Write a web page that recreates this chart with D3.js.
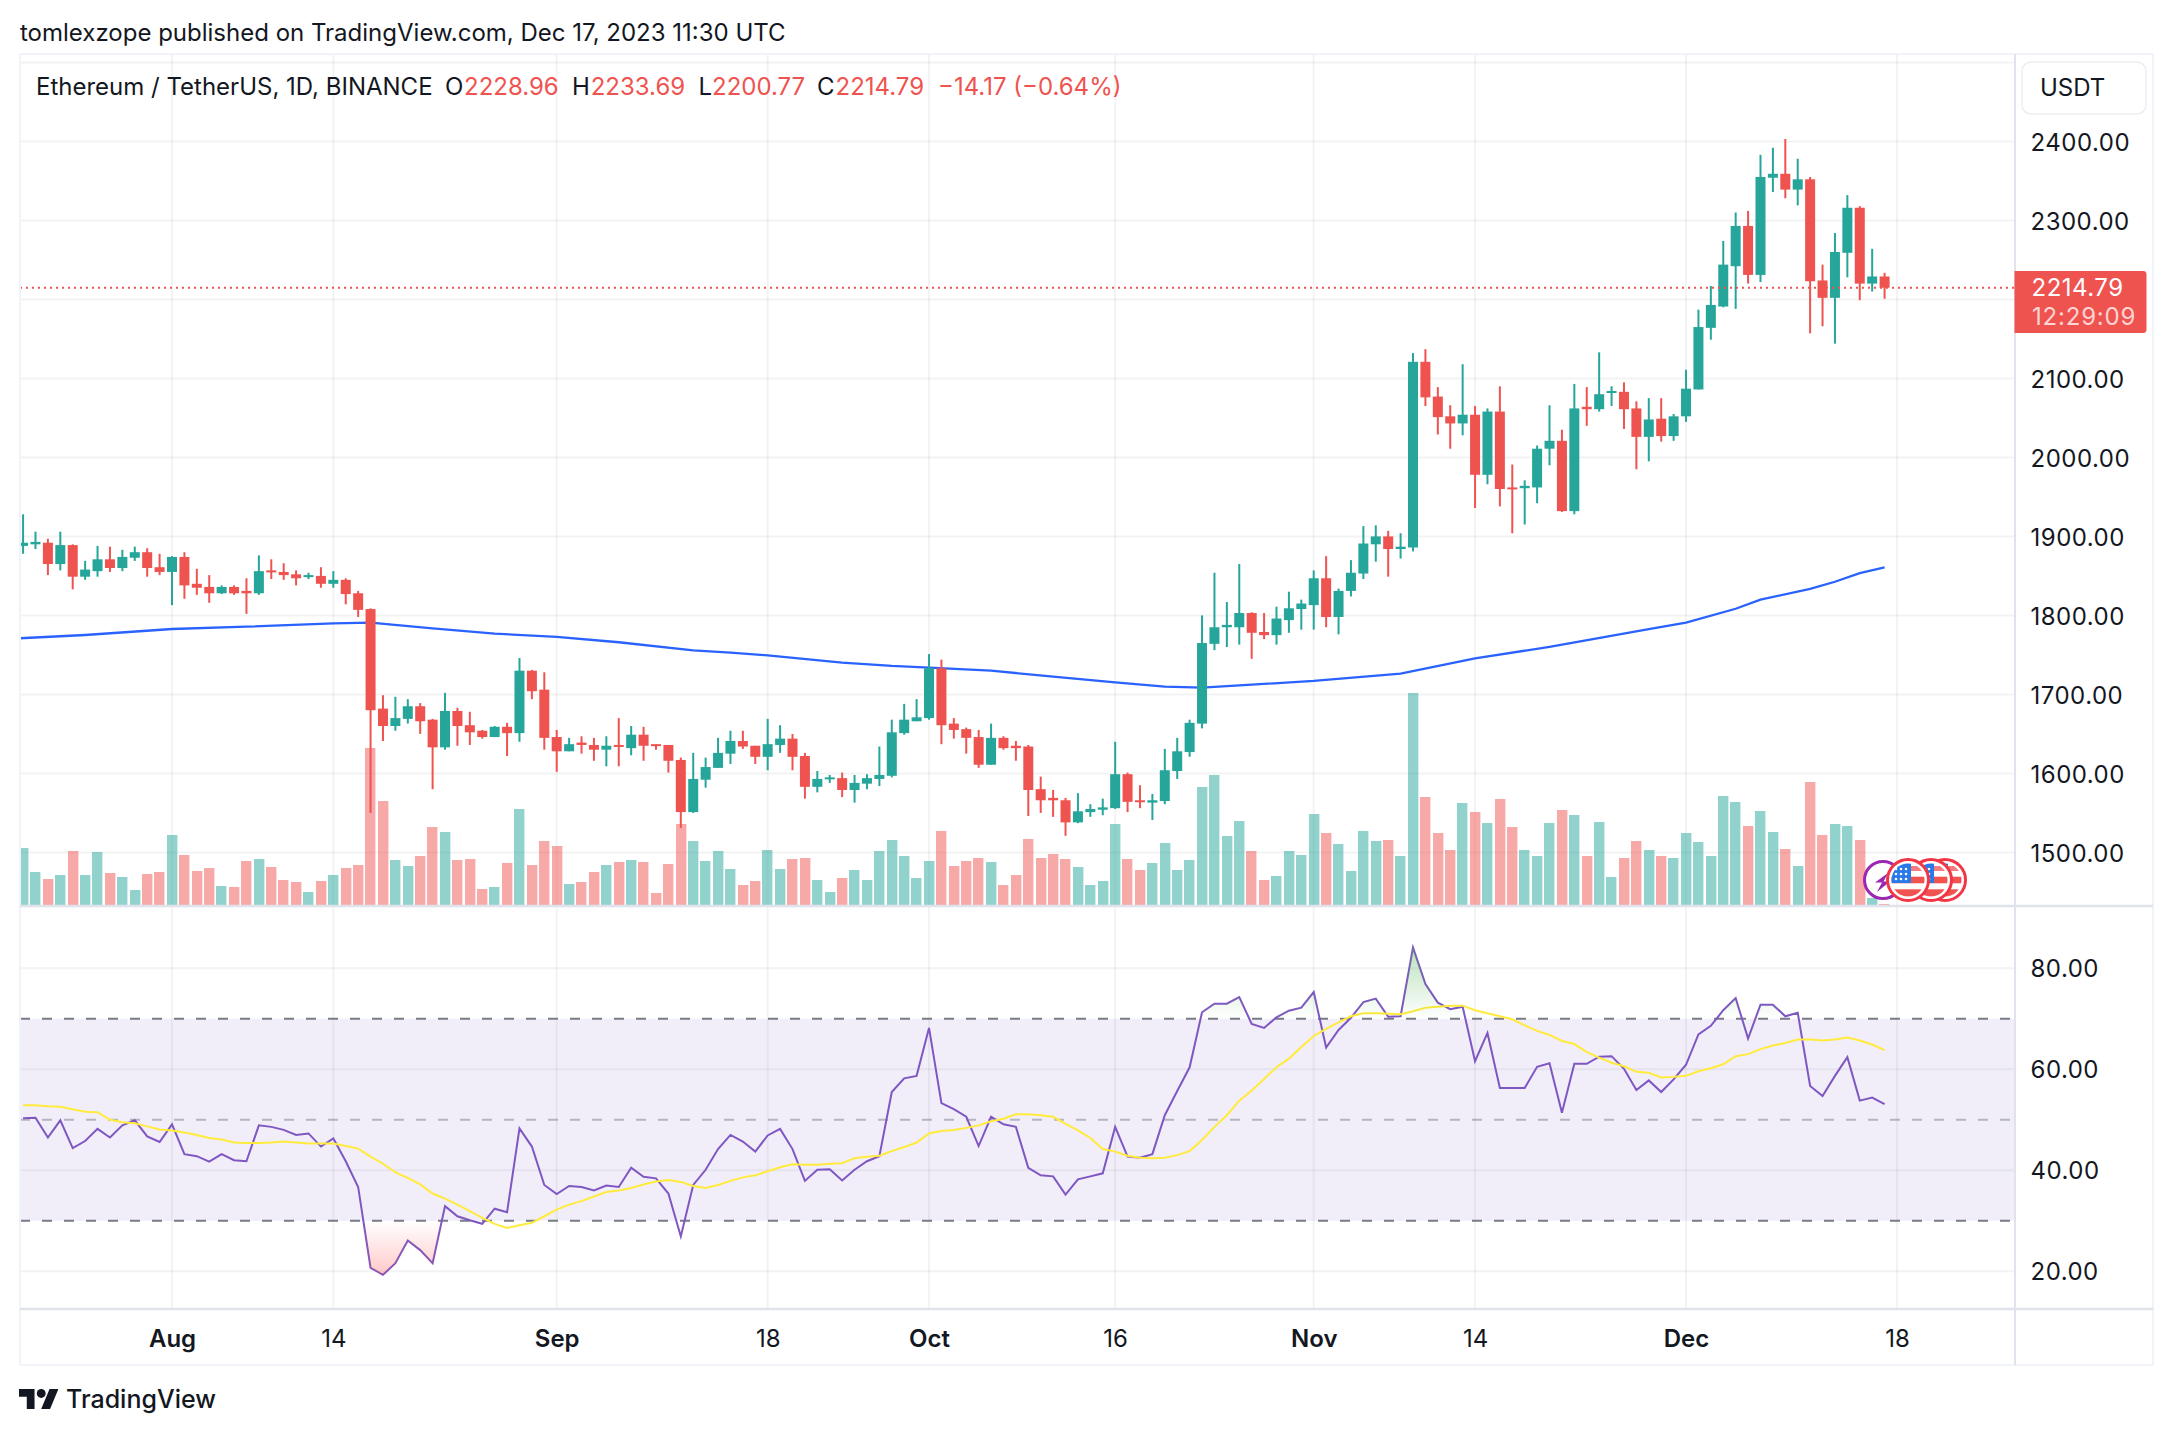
<!DOCTYPE html>
<html><head><meta charset="utf-8">
<script src="https://d3js.org/d3.v7.min.js"></script>
<style>html,body{margin:0;padding:0;background:#fff}svg{display:block}text{font-family:Inter,"Noto Sans",sans-serif}</style>
</head><body><svg id="c" width="2174" height="1434"></svg>
<script>
const firstDay = "2023-07-20";
const opens = [1888,1890,1892,1865,1889,1849,1856,1871,1860,1873,1880,1861,1855,1874,1840,1836,1828,1836,1831,1828,1857,1855,1852,1849,1850,1840,1845,1828,1808,1682,1660,1669,1685,1668,1633,1679,1661,1654,1646,1659,1651,1730,1706,1646,1628,1639,1636,1630,1636,1632,1649,1637,1636,1617,1551,1592,1607,1625,1641,1635,1621,1636,1644,1622,1583,1593,1594,1579,1587,1593,1597,1651,1666,1670,1733,1663,1656,1646,1611,1645,1635,1634,1580,1569,1566,1538,1551,1554,1556,1599,1566,1563,1565,1603,1627,1663,1764,1785,1785,1803,1779,1775,1794,1808,1813,1847,1798,1831,1853,1890,1900,1884,1886,2121,2077,2052,2043,2054,1978,2058,1962,1961,1962,2011,2021,1932,2064,2061,2082,2083,2062,2026,2049,2027,2052,2086,2164,2191,2242,2293,2231,2354,2359,2339,2352,2224,2202,2259,2316,2220,2228.96];
const highs = [1928,1906,1897,1906,1890,1869,1888,1887,1883,1887,1885,1878,1875,1880,1859,1851,1838,1838,1847,1876,1871,1866,1857,1854,1861,1856,1847,1831,1809,1699,1697,1694,1689,1669,1702,1683,1678,1655,1660,1664,1746,1731,1728,1655,1645,1647,1645,1647,1670,1660,1659,1637,1636,1620,1626,1620,1645,1654,1654,1635,1669,1661,1650,1626,1603,1598,1601,1598,1599,1634,1668,1688,1694,1751,1744,1670,1658,1655,1663,1647,1641,1636,1596,1579,1569,1575,1561,1568,1640,1601,1585,1574,1631,1645,1668,1800,1854,1817,1865,1804,1803,1811,1830,1820,1857,1875,1834,1870,1913,1914,1907,1904,2132,2137,2089,2066,2118,2065,2062,2090,1991,1971,2015,2066,2035,2093,2089,2133,2090,2095,2071,2075,2075,2055,2111,2187,2217,2274,2310,2312,2383,2392,2403,2378,2355,2244,2284,2332,2318,2264,2233.69];
const lows = [1878,1884,1851,1857,1833,1845,1849,1855,1856,1869,1849,1851,1813,1821,1826,1816,1827,1826,1802,1826,1846,1845,1838,1846,1835,1835,1814,1798,1550,1641,1654,1663,1650,1580,1630,1635,1636,1644,1646,1622,1640,1694,1630,1602,1628,1625,1616,1609,1609,1623,1616,1630,1601,1531,1550,1582,1607,1612,1631,1612,1604,1626,1604,1568,1576,1588,1570,1563,1580,1584,1595,1649,1666,1668,1637,1644,1625,1607,1611,1630,1616,1546,1550,1545,1521,1537,1545,1547,1555,1551,1556,1541,1561,1593,1621,1657,1756,1760,1763,1745,1770,1763,1778,1782,1782,1785,1776,1824,1846,1868,1849,1872,1881,2065,2029,2011,2028,1936,1966,1938,1904,1915,1942,1990,1931,1928,2040,2058,2065,2036,1985,1995,2020,2021,2045,2086,2149,2190,2188,2220,2222,2336,2328,2319,2157,2166,2144,2228,2199,2210,2200.77];
const closes = [1892,1893,1865,1889,1849,1858,1871,1860,1874,1880,1860,1855,1874,1838,1835,1828,1836,1828,1828,1856,1855,1851,1847,1851,1840,1845,1827,1807,1680,1660,1670,1685,1666,1633,1679,1660,1652,1646,1659,1651,1730,1704,1645,1628,1637,1636,1630,1635,1634,1649,1635,1635,1616,1551,1593,1608,1626,1641,1634,1621,1637,1644,1621,1583,1593,1595,1579,1588,1594,1598,1652,1668,1671,1733,1661,1655,1645,1611,1645,1632,1632,1579,1566,1566,1538,1552,1555,1557,1599,1564,1564,1566,1604,1628,1664,1765,1785,1788,1803,1778,1775,1796,1809,1815,1847,1798,1831,1854,1891,1900,1884,1887,2121,2076,2051,2043,2054,1978,2058,1960,1960,1964,2011,2021,1932,2062,2061,2080,2084,2061,2026,2048,2027,2052,2087,2165,2193,2244,2293,2231,2355,2359,2339,2352,2223,2202,2260,2316,2220,2229,2214.79];
const volumes = [57,33,26,30,54,30,53,32,28,15,31,33,70,50,34,37,19,18,44,46,38,25,23,13,24,30,37,40,157,104,45,39,49,78,73,45,46,16,18,42,96,40,64,59,21,23,33,40,43,45,43,12,41,81,64,44,54,36,20,24,55,36,46,47,25,13,27,35,25,54,65,49,27,44,74,39,44,47,43,20,30,66,47,51,46,38,20,24,81,46,35,42,62,35,45,118,130,69,84,54,25,29,54,50,91,72,61,34,74,64,65,49,212,108,72,55,102,93,82,106,78,55,49,82,95,90,49,83,28,47,64,55,49,47,72,63,49,109,103,79,94,73,56,39,123,70,81,79,65,7,1];
const rsiValues = [50.3,50.4,46.5,49.9,44.4,45.8,48.2,46.5,48.9,49.9,46.7,45.6,49.1,43.2,42.8,41.7,43.2,42.0,41.8,48.9,48.6,48.0,47.0,47.3,44.7,46.3,41.8,36.7,20.7,19.3,21.6,26.1,24.2,21.6,32.9,30.9,30.1,29.4,32.4,31.7,48.3,44.7,37.1,35.3,36.9,36.7,36.0,37.0,36.7,40.5,38.7,38.4,35.4,26.9,37.1,40.1,44.2,47.0,45.7,43.7,46.9,48.2,44.2,37.9,40.1,40.2,38.0,40.1,41.8,42.8,55.5,58.2,58.7,68.2,53.3,52.1,50.6,44.8,50.6,49.1,48.6,40.5,39.0,38.8,35.2,38.2,38.8,39.4,48.6,42.7,42.5,43.2,50.9,55.7,60.4,71.3,73.0,73.0,74.3,69.0,68.2,70.3,71.6,72.2,75.3,64.3,67.8,70.2,73.3,74.0,70.4,70.5,84.1,76.9,73.2,71.9,72.4,61.6,67.2,56.3,56.3,56.3,60.5,61.2,51.4,61.1,61.1,62.5,62.6,60.1,55.9,57.8,55.5,58.0,60.9,66.9,68.6,71.7,74.1,66.1,72.8,72.8,70.5,71.2,56.7,54.7,58.7,62.4,53.8,54.4,53.1];
const rsiMa = [52.9,52.9,52.7,52.6,52.1,51.6,51.5,50.0,49.5,49.3,48.7,48.1,47.9,47.5,47.0,46.4,46.1,45.5,45.4,45.4,45.5,45.7,45.5,45.3,45.3,45.3,44.8,44.3,42.7,41.3,39.6,38.5,37.2,35.4,34.4,33.2,31.9,30.6,29.4,28.6,29.1,29.6,30.9,32.2,33.2,33.9,34.8,35.7,36.0,36.5,37.2,37.8,38.1,37.7,36.9,36.5,37.1,37.9,38.6,39.0,39.8,40.6,41.2,41.1,41.1,41.3,41.4,42.4,42.7,42.9,43.8,44.6,45.5,47.3,47.8,48.0,48.4,48.9,49.7,50.2,51.1,51.1,50.9,50.6,49.2,47.9,46.4,44.2,43.7,42.9,42.5,42.4,42.5,43.0,43.8,46.0,48.6,50.9,53.8,55.8,58.1,60.4,62.1,64.4,66.6,68.0,69.3,70.5,71.1,71.1,71.0,70.9,71.5,72.2,72.4,72.6,72.6,71.7,71.1,70.5,69.9,68.7,67.6,66.8,65.6,65.0,63.4,62.3,61.3,60.6,59.5,59.3,58.4,58.5,58.7,59.6,60.2,61.0,62.6,63.0,64.0,64.7,65.2,65.9,65.9,65.7,65.9,66.3,65.7,64.9,63.8];
const maDates = ["2023-07-19","2023-07-25","2023-08-01","2023-08-07","2023-08-14","2023-08-17","2023-08-22","2023-08-27","2023-09-01","2023-09-06","2023-09-12","2023-09-15","2023-09-18","2023-09-24","2023-09-28","2023-10-01","2023-10-06","2023-10-11","2023-10-16","2023-10-20","2023-10-23","2023-10-27","2023-11-01","2023-11-08","2023-11-14","2023-11-20","2023-11-28","2023-12-01","2023-12-05","2023-12-07","2023-12-11","2023-12-13","2023-12-15","2023-12-17"];
const maValues = [1770.5,1775.2,1782.8,1785.7,1790,1790.8,1783.7,1776.9,1772.7,1766,1755.8,1752.8,1749.5,1740.2,1736,1733.9,1730,1722.5,1715.3,1709.8,1708.6,1712.4,1717,1726.2,1745.6,1760.2,1782.5,1791,1808.4,1820,1833.6,1842.6,1853.6,1860.7];
const priceTicks = [1500,1600,1700,1800,1900,2000,2100,2200,2300,2400,2500];
const priceLabels = [1500,1600,1700,1800,1900,2000,2100,2300,2400];
const rsiTicks = [20,40,60,80];
const timeTickDates = ["2023-08-01","2023-08-14","2023-09-01","2023-09-18","2023-10-01","2023-10-16","2023-11-01","2023-11-14","2023-12-01","2023-12-18"];
const timeTickLabels = ["Aug","14","Sep","18","Oct","16","Nov","14","Dec","18"];
const monthLabels = ["Aug","Sep","Oct","Nov","Dec"];

const up="#26a69a", down="#ef5350", border="#e0e3eb", ink="#131722";
const L=20,R=2015,Top=54,MainBottom=905,RsiTop=907,RsiBottom=1308,AxisBottom=1365,Far=2153;
const parse=d3.utcParse("%Y-%m-%d");
const day0=parse(firstDay);
const dates=opens.map((_,i)=>d3.utcDay.offset(day0,i));
const x=d3.scaleUtc().domain([parse("2023-08-01"),parse("2023-12-18")]).range([172,1897]);
const y=d3.scaleLinear().domain([1500,2400]).range([852.4,141.4]);
const yVol=d3.scaleLinear().domain([0,212]).range([MainBottom,693]);
const yRsi=d3.scaleLinear().domain([20,80]).range([1271.3,968.3]);
const svg=d3.select("#c");
const defs=svg.append("defs");
defs.append("clipPath").attr("id","main").append("rect").attr("x",L).attr("y",Top).attr("width",R-L).attr("height",MainBottom-Top);
defs.append("clipPath").attr("id","rsi").append("rect").attr("x",L).attr("y",RsiTop).attr("width",R-L).attr("height",RsiBottom-RsiTop);
defs.append("clipPath").attr("id","over").append("rect").attr("x",L).attr("y",RsiTop).attr("width",R-L).attr("height",yRsi(70)-RsiTop);
defs.append("clipPath").attr("id","under").append("rect").attr("x",L).attr("y",yRsi(30)).attr("width",R-L).attr("height",RsiBottom-yRsi(30));
const g1=defs.append("linearGradient").attr("id","gOver").attr("gradientUnits","userSpaceOnUse").attr("x1",0).attr("x2",0).attr("y1",yRsi(84)).attr("y2",yRsi(70));
g1.append("stop").attr("offset",0).attr("stop-color","#4caf50").attr("stop-opacity",.38);
g1.append("stop").attr("offset",1).attr("stop-color","#4caf50").attr("stop-opacity",0);
const g2=defs.append("linearGradient").attr("id","gUnder").attr("gradientUnits","userSpaceOnUse").attr("x1",0).attr("x2",0).attr("y1",yRsi(30)).attr("y2",yRsi(19));
g2.append("stop").attr("offset",0).attr("stop-color","#ff5252").attr("stop-opacity",0);
g2.append("stop").attr("offset",1).attr("stop-color","#ff5252").attr("stop-opacity",.32);

// RSI band
svg.append("rect").attr("x",L).attr("y",yRsi(70)).attr("width",R-L).attr("height",yRsi(30)-yRsi(70)).attr("fill","#7e57c2").attr("fill-opacity",.1);

// grid: translucent so it darkens over the RSI band as in the reference
const gg=svg.append("g").attr("stroke","#2a2e39").attr("stroke-opacity",.06).attr("stroke-width",2);
gg.selectAll(".h").data(priceTicks).join("line").attr("class","h").attr("x1",L).attr("x2",R).attr("y1",d=>y(d)).attr("y2",d=>y(d));
gg.selectAll(".r").data(rsiTicks).join("line").attr("class","r").attr("x1",L).attr("x2",R).attr("y1",d=>yRsi(d)).attr("y2",d=>yRsi(d));
gg.selectAll(".v").data(timeTickDates).join("line").attr("class","v").attr("x1",d=>x(parse(d))).attr("x2",d=>x(parse(d))).attr("y1",Top).attr("y2",RsiBottom);

// volume
const main=svg.append("g").attr("clip-path","url(#main)");
main.append("g").selectAll("rect").data(volumes).join("rect")
 .attr("x",(d,i)=>Math.round(x(dates[i])-5.2)).attr("width",10.4)
 .attr("y",d=>yVol(d)).attr("height",d=>MainBottom-yVol(d))
 .attr("fill",(d,i)=>closes[i]>=opens[i]?up:down).attr("fill-opacity",.5);

// MA 200
main.append("path").datum(maDates.map((d,i)=>[parse(d),maValues[i]]))
 .attr("fill","none").attr("stroke","#2962ff").attr("stroke-width",2.3)
 .attr("d",d3.line().x(d=>x(d[0])).y(d=>y(d[1])));

// candles
const cg=main.append("g").selectAll("g").data(opens).join("g").attr("fill",(d,i)=>closes[i]>=opens[i]?up:down);
cg.append("rect").attr("x",(d,i)=>x(dates[i])-1).attr("width",2).attr("y",(d,i)=>y(highs[i])).attr("height",(d,i)=>y(lows[i])-y(highs[i]));
cg.append("rect").attr("x",(d,i)=>x(dates[i])-5).attr("width",10)
 .attr("y",(d,i)=>y(Math.max(opens[i],closes[i]))).attr("height",(d,i)=>Math.max(2,Math.abs(y(opens[i])-y(closes[i]))));

// last price dotted line
const last=closes[closes.length-1];
svg.append("line").attr("x1",L).attr("x2",R).attr("y1",y(last)).attr("y2",y(last)).attr("stroke",down).attr("stroke-width",2).attr("stroke-dasharray","2 4");

// RSI fills and lines
const rsiG=svg.append("g").attr("clip-path","url(#rsi)");
const area70=d3.area().x((d,i)=>x(dates[i])).y0(yRsi(70)).y1(d=>yRsi(d));
const area30=d3.area().x((d,i)=>x(dates[i])).y0(yRsi(30)).y1(d=>yRsi(d));
svg.append("path").datum(rsiValues).attr("clip-path","url(#over)").attr("fill","url(#gOver)").attr("d",area70);
svg.append("path").datum(rsiValues).attr("clip-path","url(#under)").attr("fill","url(#gUnder)").attr("d",area30);
rsiG.selectAll(".b").data([70,50,30]).join("line").attr("x1",L).attr("x2",R).attr("y1",d=>yRsi(d)).attr("y2",d=>yRsi(d))
 .attr("stroke","#787b86").attr("stroke-opacity",d=>d===50?.5:1).attr("stroke-width",2).attr("stroke-dasharray","10 12");
const rl=d3.line().x((d,i)=>x(dates[i])).y(d=>yRsi(d));
rsiG.append("path").datum(rsiValues).attr("fill","none").attr("stroke","#7e57c2").attr("stroke-width",2).attr("d",rl);
rsiG.append("path").datum(rsiMa).attr("fill","none").attr("stroke","#ffeb3b").attr("stroke-width",2).attr("d",rl);

// frame
const fr=svg.append("g");
const ln=(a,b,c,d,col,w)=>fr.append("line").attr("x1",a).attr("y1",b).attr("x2",c).attr("y2",d).attr("stroke",col).attr("stroke-width",w);
ln(L,Top,Far,Top,"#f0f3fa",2); ln(L,Top,L,AxisBottom,"#f0f3fa",2); ln(Far,Top,Far,AxisBottom,"#f0f3fa",2); ln(L,AxisBottom,Far,AxisBottom,"#f0f3fa",2);
ln(R,Top,R,AxisBottom,border,2); ln(L,906,Far,906,border,2.5); ln(L,1309,Far,1309,border,2.5);

// axes
const fs=24, track=0.5;
const pa=svg.append("g").attr("transform",`translate(${R},1)`).call(d3.axisRight(y).tickValues(priceLabels).tickFormat(d3.format(".2f")).tickSize(0).tickPadding(15.5));
const ra=svg.append("g").attr("transform",`translate(${R},1)`).call(d3.axisRight(yRsi).tickValues(rsiTicks).tickFormat(d3.format(".2f")).tickSize(0).tickPadding(15.5));
[pa,ra].forEach(a=>{a.select(".domain").remove();a.selectAll("text").attr("font-size",fs).attr("font-family","Inter").attr("fill",ink).attr("letter-spacing",track);});
const ta=svg.append("g").attr("transform",`translate(0,1309)`).call(d3.axisBottom(x).tickValues(timeTickDates.map(parse)).tickFormat((d,i)=>timeTickLabels[i]).tickSize(0).tickPadding(21));
ta.select(".domain").remove();
ta.selectAll("text").attr("font-size",fs).attr("font-family","Inter").attr("fill",ink).attr("font-weight",(d,i)=>monthLabels.includes(timeTickLabels[i])?600:400);

// USDT
svg.append("rect").attr("x",2022).attr("y",62).attr("width",124).attr("height",52).attr("rx",9).attr("fill","#fff").attr("stroke","#eceef3").attr("stroke-width",1.5);
svg.append("text").attr("x",2040).attr("y",96).attr("font-size",fs).attr("fill",ink).text("USDT");

// price tag
svg.append("path").attr("d","M2014.5 271H2143a3.5 3.5 0 0 1 3.5 3.5V329.5a3.5 3.5 0 0 1-3.5 3.5H2014.5Z").attr("fill",down);
svg.append("text").attr("x",2031.5).attr("y",y(last)+8.5).attr("font-size",fs).attr("fill","#fff").attr("letter-spacing",track).text(d3.format(".2f")(last));
svg.append("text").attr("x",2032).attr("y",324.5).attr("font-size",fs).attr("fill","#fff").attr("fill-opacity",.75).attr("letter-spacing",0.8).text("12:29:09");

// header
const t=(xx,yy,s,col,fz,w)=>svg.append("text").attr("x",xx).attr("y",yy).attr("font-size",fz||fs).attr("fill",col||ink).attr("font-weight",w||400).text(s);
t(20,40.5,"tomlexzope published on TradingView.com, Dec 17, 2023 11:30 UTC");
t(36,94.5,"Ethereum / TetherUS, 1D, BINANCE");
t(445,94.5,"O");t(464,94.5,"2228.96",down);t(572,94.5,"H");t(590.7,94.5,"2233.69",down);t(698.6,94.5,"L");t(712,94.5,"2200.77",down);t(817,94.5,"C");t(835.5,94.5,"2214.79",down);t(938,94.5,"\u221214.17 (\u22120.64%)",down);

// event icons
const icons=svg.append("g"), cy=880;
const starCols=[-11,-6,-1], starRows=[-11,-6,-1];
[1945,1931,1908].forEach((cx,i)=>{
  const id="f"+i, r=20.5, inner=16.5;
  defs.append("clipPath").attr("id",id).append("circle").attr("cx",cx).attr("cy",cy).attr("r",inner);
  if(i===2){
    icons.append("circle").attr("cx",1883).attr("cy",cy).attr("r",18.5).attr("fill","#fff").attr("stroke","#9c27b0").attr("stroke-width",3);
    icons.append("path").attr("d","M1888 873L1875 882.5H1882L1877 892L1890 881.5H1883.5Z").attr("fill","#9c27b0");
  }
  const gf=icons.append("g");
  gf.append("circle").attr("cx",cx).attr("cy",cy).attr("r",r).attr("fill","#fff").attr("stroke","#f23645").attr("stroke-width",3);
  const gc=gf.append("g").attr("clip-path",`url(#${id})`);
  gc.append("rect").attr("x",cx).attr("y",cy-14).attr("width",r).attr("height",5).attr("fill","#f77c80");
  gc.append("rect").attr("x",cx-r).attr("y",cy-3.3).attr("width",2*r).attr("height",6.6).attr("fill","#f05350");
  gc.append("rect").attr("x",cx-r).attr("y",cy+9.3).attr("width",2*r).attr("height",7.5).attr("fill","#f05350");
  gc.append("rect").attr("x",cx-r).attr("y",cy-r+3).attr("width",r+3).attr("height",r).attr("fill","#2979e8");
  starRows.forEach(sy=>starCols.forEach(sx=>gc.append("circle").attr("cx",cx+sx-1).attr("cy",cy+sy).attr("r",1.3).attr("fill","#fff")));
});

// brand
svg.append("path").attr("transform","translate(19,1384.6) scale(1.11)").attr("fill",ink).attr("d","M14 22H7V11H0V4h14v18zM28 22h-8l7.5-18h8L28 22z");
svg.append("circle").attr("transform","translate(19,1384.6) scale(1.11)").attr("cx",20).attr("cy",8).attr("r",4).attr("fill",ink);
t(66,1408,"TradingView",ink,25,500);
</script></body></html>
